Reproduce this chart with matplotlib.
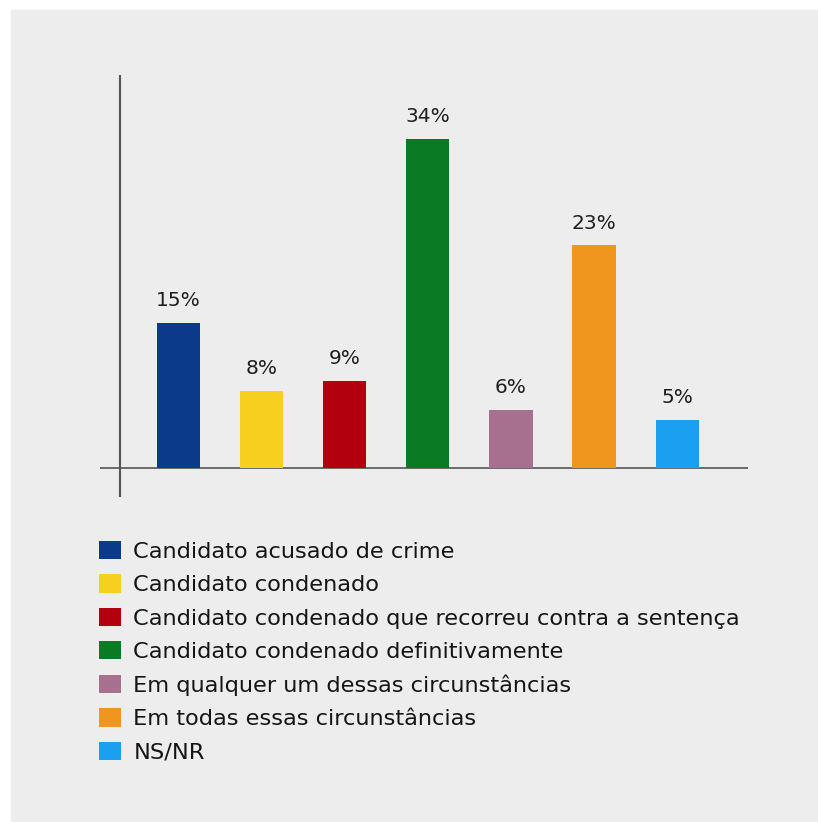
import matplotlib.pyplot as plt

# Dados do gráfico
categorias = [
    "Candidato acusado de crime",
    "Candidato condenado",
    "Candidato condenado que recorreu contra a sentença",
    "Candidato condenado definitivamente",
    "Em qualquer um dessas circunstâncias",
    "Em todas essas circunstâncias",
    "NS/NR",
]
valores = [15, 8, 9, 34, 6, 23, 5]
cores = ["#0b3a8a", "#f6cf1f", "#b3000f", "#0b7a24", "#a8708f", "#f0961f", "#1b9ff0"]

plt.rcParams['font.family'] = ['DejaVu Sans']

fig = plt.figure(figsize=(8.18, 8.22), dpi=100)
fig.patch.set_facecolor("white")
W, H = 818, 822

# painel cinza
fig.patches.append(plt.Rectangle((11 / W, 0), 1 - 11 / W, 1 - 10 / H,
                                 transform=fig.transFigure, color="#ededed", zorder=-10))

ax = fig.add_axes([100 / W, 1 - 497 / H, (748 - 100) / W, (497 - 75) / H])
ax.set_facecolor("none")

x = list(range(len(valores)))
barras = ax.bar(x, valores, width=0.52, color=cores, label=categorias, zorder=2)

for xi, v in zip(x, valores):
    ax.text(xi, v + 1.3, f"{v}%", ha="center", va="bottom", fontsize=14.5, color="#1e1e1e")

ax.set_xlim(-0.94, 6.85)
ax.set_ylim(-3.0, 40.6)
ax.axhline(0, color="#555555", lw=1.2, zorder=1)
ax.axvline(-0.70, color="#555555", lw=1.5, zorder=1)
for s in ax.spines.values():
    s.set_visible(False)
ax.set_xticks([])
ax.set_yticks([])

fig.legend(handles=barras, labels=categorias, loc="upper left",
           bbox_to_anchor=(99 / W, 1 - 541 / H), frameon=False,
           fontsize=16.2, handlelength=0.98, handleheight=0.88,
           handletextpad=0.55, labelspacing=0.55, borderpad=0,
           borderaxespad=0, labelcolor="#151515")

fig.savefig("out.png", dpi=100)
